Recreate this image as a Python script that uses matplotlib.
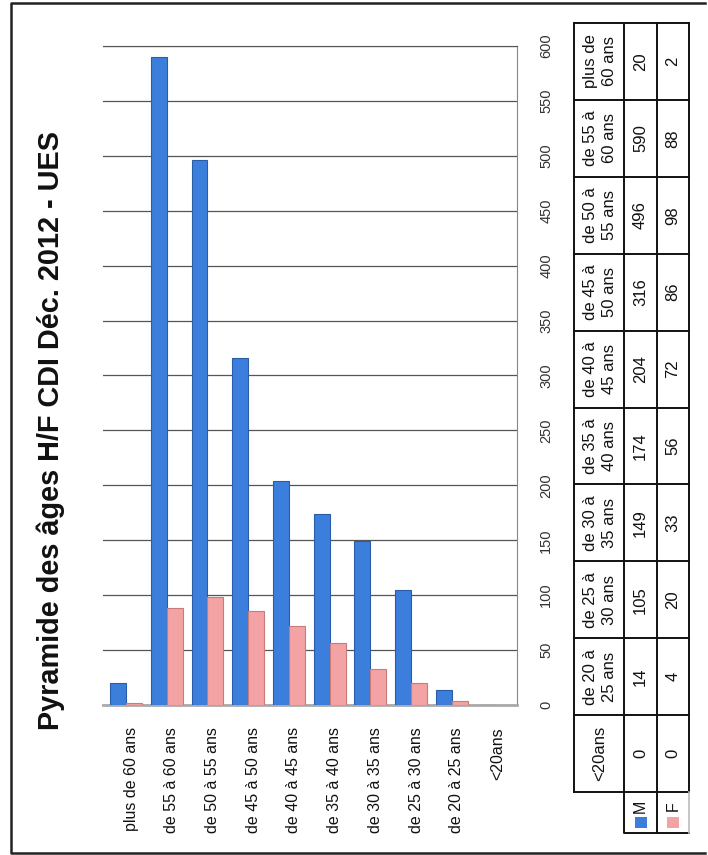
import numpy as np
import matplotlib
matplotlib.use("Agg")
import matplotlib.pyplot as plt
from matplotlib.patches import Rectangle
from matplotlib.transforms import ScaledTranslation

# --- données (ordre de gauche à droite sur le graphique) ---
categories = ["plus de 60 ans", "de 55 à 60 ans", "de 50 à 55 ans", "de 45 à 50 ans",
              "de 40 à 45 ans", "de 35 à 40 ans", "de 30 à 35 ans", "de 25 à 30 ans",
              "de 20 à 25 ans", "<20ans"]
hommes = [20, 590, 496, 316, 204, 174, 149, 105, 14, 0]
femmes = [2, 88, 98, 86, 72, 56, 33, 20, 4, 0]
table_heads = ["plus de\n60 ans", "de 55 à\n60 ans", "de 50 à\n55 ans", "de 45 à\n50 ans",
               "de 40 à\n45 ans", "de 35 à\n40 ans", "de 30 à\n35 ans", "de 25 à\n30 ans",
               "de 20 à\n25 ans", "<20ans"]
series_names = ["M", "F"]
value_ticks = list(range(0, 601, 50))
title = "Pyramide des âges H/F CDI Déc. 2012 - UES"

BLUE = "#3B7EDB"
BLUE_EDGE = "#2A5CA8"
PINK = "#F3A3A3"
PINK_EDGE = "#C77B7B"
FONT = ["Liberation Sans", "DejaVu Sans"]

W, H = 708, 855
fig = plt.figure(figsize=(W / 100, H / 100), dpi=100)


def fx(px):
    return px / W


def fy(py):
    return 1 - py / H


# calque en pixels pour le cadre et le tableau
ov = fig.add_axes([0, 0, 1, 1])
ov.set_xlim(0, W)
ov.set_ylim(H, 0)
ov.axis("off")

# cadre extérieur
ov.plot([705, 11, 11, 705], [3, 3, 853, 853], color="#222", lw=1.8)

# titre (vertical)
fig.text(fx(51), fy(430), title, rotation=90, ha="center", va="center",
         fontsize=20.8, fontweight="bold", family=FONT, color="#111")

# --- graphique ---
ax = fig.add_axes([fx(103), fy(705), fx(517) - fx(103), (705 - 46) / H])
x = np.arange(len(categories))
bw = 0.39
ax.bar(x - bw / 2, hommes, bw, color=BLUE, edgecolor=BLUE_EDGE, linewidth=0.8, zorder=3)
ax.bar(x + bw / 2, femmes, bw, color=PINK, edgecolor=PINK_EDGE, linewidth=0.8, zorder=3)
ax.set_xlim(-0.565, 9.6)
ax.set_ylim(0, 600)

ax.yaxis.tick_right()
ax.set_yticks(value_ticks)
ax.set_yticklabels([str(v) for v in value_ticks], rotation=90, va="center",
                   family=FONT, fontsize=10.5, color="#333")
ax.tick_params(axis="y", length=0, pad=16)
ax.grid(axis="y", color="#555", lw=0.9, zorder=0)

ax.set_xticks(x)
ax.set_xticklabels(categories, rotation=90, family=FONT, fontsize=11.5, color="#111")
ax.tick_params(axis="x", length=0, pad=16)
for lab in ax.get_xticklabels():
    lab.set_transform(lab.get_transform() + ScaledTranslation(5 / 100, 0, fig.dpi_scale_trans))

ax.spines["left"].set_visible(False)
ax.spines["top"].set_color("#555")
ax.spines["right"].set_color("#888")
ax.spines["bottom"].set_color("#aaa")
ax.spines["bottom"].set_linewidth(2)

# --- tableau de données (vertical, à droite) ---
col_x = [574, 624, 657, 689]
row_y = np.linspace(23, 792, len(categories) + 1)
lc = "#111"
for yy in row_y:
    ov.plot([col_x[0], col_x[-1]], [yy, yy], color=lc, lw=1.4)
for xx in col_x:
    ov.plot([xx, xx], [row_y[0], row_y[-1]], color=lc, lw=1.4)
# cellules de légende M / F
ov.plot([624, 624, 689], [792, 833, 833], color=lc, lw=1.4)
ov.plot([657, 657], [792, 833], color=lc, lw=1.4)
ov.plot([689, 689], [792, 833], color="#bbb", lw=1.2)

for i in range(len(categories)):
    yc = (row_y[i] + row_y[i + 1]) / 2
    ov.text((col_x[0] + col_x[1]) / 2 + 1, yc, table_heads[i], rotation=90, ha="center",
            va="center", multialignment="center", linespacing=1.3,
            family=FONT, fontsize=12, color="#111")
    ov.text((col_x[1] + col_x[2]) / 2, yc, str(hommes[i]), rotation=90, ha="center",
            va="center", family=FONT, fontsize=12, color="#111")
    ov.text((col_x[2] + col_x[3]) / 2, yc, str(femmes[i]), rotation=90, ha="center",
            va="center", family=FONT, fontsize=12, color="#111")

for j, (name, col) in enumerate(zip(series_names, [BLUE, PINK])):
    xc = (col_x[j + 1] + col_x[j + 2]) / 2
    ov.text(xc, 806, name, rotation=90, ha="center", va="center",
            family=FONT, fontsize=11.5, color="#111")
    ov.add_patch(Rectangle((xc - 6, 817), 12, 11, facecolor=col, edgecolor="none"))

fig.savefig("out.png", dpi=100)
